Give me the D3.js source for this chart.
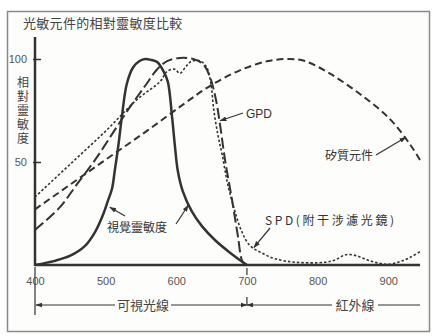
<!DOCTYPE html>
<html>
<head>
<meta charset="utf-8">
<script src="https://cdn.jsdelivr.net/npm/d3@7"></script>
<style>
  body { margin: 0; background: #fff; }
  svg { display: block; }
  .cjk { font-family: "Noto Sans CJK TC", "Noto Sans CJK SC", sans-serif; }
  .num { font-family: "Liberation Sans", Arial, sans-serif; }
</style>
</head>
<body>
<svg width="432" height="336"></svg>
<script>
// wavelength (nm) / relative sensitivity (%)
const eyeNm  = [400, 428, 450, 470, 485, 497, 503, 509, 513, 518, 523, 530, 539, 548, 556, 565, 573, 582, 588, 594, 598, 602, 609, 622, 636, 655, 676, 700];
const eyeVal = [0, 2, 4.5, 9, 16, 25, 31, 37, 46, 58, 72, 88, 96, 99, 100, 99.5, 98.5, 94, 89, 72, 58, 46, 36, 26, 19, 12, 6, 0];

const gpdNm  = [400, 435, 459, 485, 510, 534, 556, 573, 587, 605, 624, 638, 648, 656, 662, 669, 679, 687, 694, 700];
const gpdVal = [17, 28, 39, 51, 64, 76.5, 87, 95, 99, 100.5, 100, 97.5, 91, 80.5, 68, 51, 31.5, 14.5, 1.5, 0];

const spdNm  = [400, 450, 500, 545, 577, 587, 598, 605, 614, 622, 634, 643, 649, 653, 659, 665, 673, 683, 693, 704, 720, 740, 770, 810, 825, 840, 855, 870, 885, 900, 915, 930, 945];
const spdVal = [33, 49, 65, 80.5, 89, 94, 95, 93, 96.5, 99, 99, 96, 88, 75.5, 63, 53.5, 39, 26, 16, 9.5, 6, 3, 1.3, 1.3, 2.5, 5, 4.5, 2.5, 1, 0.3, 1.5, 3.5, 6.5];

const siNm  = [400, 460, 510, 560, 610, 648, 690, 730, 760, 782, 817, 860, 902, 931, 945];
const siVal = [27, 41.5, 53.5, 65.5, 78, 87, 94.5, 99, 100, 99, 93, 83, 71, 58.5, 51];

const xTicks = [400, 500, 600, 700, 800, 900];
const yTicks = [50, 100];

const svg = d3.select("svg");
const ink = "#333";

const x = d3.scaleLinear().domain([400, 945]).range([35, 420]);
const y = d3.scaleLinear().domain([0, 100]).range([265, 59]);

// arrowhead
svg.append("defs").append("marker")
    .attr("id", "ah")
    .attr("viewBox", "0 0 10 10")
    .attr("refX", 9).attr("refY", 5)
    .attr("markerWidth", 7).attr("markerHeight", 7)
    .attr("markerUnits", "userSpaceOnUse")
    .attr("orient", "auto")
  .append("path")
    .attr("d", "M0,1.5 L10,5 L0,8.5 Z")
    .attr("fill", ink);

// frame
svg.append("rect")
    .attr("x", 7.5).attr("y", 11.5)
    .attr("width", 422).attr("height", 320)
    .attr("fill", "#fdfdfc")
    .attr("stroke", "#8a8a8a")
    .attr("stroke-width", 1.5);

// title
svg.append("text")
    .attr("class", "cjk")
    .attr("x", 23).attr("y", 28)
    .attr("font-size", 13)
    .attr("letter-spacing", 0.3)
    .attr("fill", "#444")
    .text("光敏元件的相對靈敏度比較");

// y label, vertical
svg.append("text")
    .attr("class", "cjk")
    .attr("x", 23).attr("y", 76)
    .attr("font-size", 12)
    .attr("letter-spacing", 2)
    .style("writing-mode", "vertical-rl")
    .style("fill", "#444")
    .text("相對靈敏度");

// axes
svg.append("line")
    .attr("x1", x(400)).attr("x2", x(400))
    .attr("y1", 37).attr("y2", y(0) + 1)
    .attr("stroke", ink).attr("stroke-width", 2.5);
svg.append("line")
    .attr("x1", x(400)).attr("x2", x(945))
    .attr("y1", y(0)).attr("y2", y(0))
    .attr("stroke", ink).attr("stroke-width", 2.5);

const yAxis = svg.append("g")
    .attr("transform", `translate(${x(400)},0)`)
    .call(d3.axisLeft(y).tickValues(yTicks).tickSize(-6).tickPadding(8));
yAxis.select(".domain").remove();
yAxis.selectAll("line").attr("stroke", ink).attr("stroke-width", 1.5).attr("x1", -2);
yAxis.selectAll("text").attr("class", "num").attr("font-size", 11).style("fill", "#555");

const xAxis = svg.append("g")
    .attr("transform", `translate(0,${y(0)})`)
    .call(d3.axisBottom(x).tickValues(xTicks).tickSize(0).tickPadding(12));
xAxis.select(".domain").remove();
xAxis.selectAll("text").attr("class", "num").attr("font-size", 11).style("fill", "#555");

// curves
const line = d3.line()
    .x(d => x(d[0]))
    .y(d => y(d[1]))
    .curve(d3.curveCatmullRom.alpha(0.5));

const series = [
  { nm: siNm,  val: siVal,  w: 2,   dash: "7,4" },
  { nm: gpdNm, val: gpdVal, w: 2,   dash: "11,4" },
  { nm: spdNm, val: spdVal, w: 1.6, dash: "2.5,2" },
  { nm: eyeNm, val: eyeVal, w: 2.5, dash: null }
];

svg.append("g").selectAll("path")
    .data(series)
    .join("path")
    .attr("d", s => line(d3.zip(s.nm, s.val)))
    .attr("fill", "none")
    .attr("stroke", ink)
    .attr("stroke-width", s => s.w)
    .attr("stroke-dasharray", s => s.dash);

// annotations
function arrow(x1, y1, x2, y2) {
  svg.append("line")
      .attr("x1", x1).attr("y1", y1).attr("x2", x2).attr("y2", y2)
      .attr("stroke", ink).attr("stroke-width", 1.2)
      .attr("marker-end", "url(#ah)");
}

svg.append("text").attr("class", "num")
    .attr("x", 246).attr("y", 118)
    .attr("font-size", 12).attr("fill", "#333")
    .text("GPD");
arrow(243, 113, x(662), y(70));

svg.append("text").attr("class", "cjk")
    .attr("x", 325).attr("y", 160)
    .attr("font-size", 12).attr("fill", "#333")
    .text("矽質元件");
arrow(376, 155, x(925), y(62));

svg.append("text").attr("class", "cjk")
    .attr("x", 107).attr("y", 232)
    .attr("font-size", 12).attr("fill", "#333")
    .text("視覺靈敏度");
arrow(125, 216, x(506), y(28));
arrow(176, 224, x(617), y(29));

svg.append("text").attr("class", "cjk")
    .attr("x", 265).attr("y", 225)
    .attr("font-size", 12).attr("fill", "#333")
    .attr("letter-spacing", 2.6)
    .text("SPD(附干涉濾光鏡)");
arrow(270, 228, x(710), y(8.5));

// visible / infrared ranges
const rowY = 305;
const rng = svg.append("g").attr("stroke", ink).attr("stroke-width", 1.2);
rng.append("line").attr("x1", x(400)).attr("x2", x(400)).attr("y1", y(0) + 2).attr("y2", rowY + 10);
rng.append("line").attr("x1", x(700)).attr("x2", x(700)).attr("y1", y(0) + 3).attr("y2", y(0) + 10);
rng.append("line").attr("x1", x(700)).attr("x2", x(700)).attr("y1", rowY - 8).attr("y2", rowY);
rng.append("line").attr("x1", 115).attr("x2", x(400) + 1).attr("y1", rowY).attr("y2", rowY).attr("marker-end", "url(#ah)");
rng.append("line").attr("x1", 171).attr("x2", x(700)).attr("y1", rowY).attr("y2", rowY).attr("marker-end", "url(#ah)");
rng.append("line").attr("x1", 332).attr("x2", x(700)).attr("y1", rowY).attr("y2", rowY).attr("marker-end", "url(#ah)");
rng.append("line").attr("x1", 378).attr("x2", x(945)).attr("y1", rowY).attr("y2", rowY);

svg.append("text").attr("class", "cjk")
    .attr("x", 143).attr("y", rowY + 4.5)
    .attr("text-anchor", "middle")
    .attr("font-size", 13).attr("fill", "#444")
    .text("可視光線");
svg.append("text").attr("class", "cjk")
    .attr("x", 355).attr("y", rowY + 4.5)
    .attr("text-anchor", "middle")
    .attr("font-size", 13).attr("fill", "#444")
    .text("紅外線");
</script>
</body>
</html>
